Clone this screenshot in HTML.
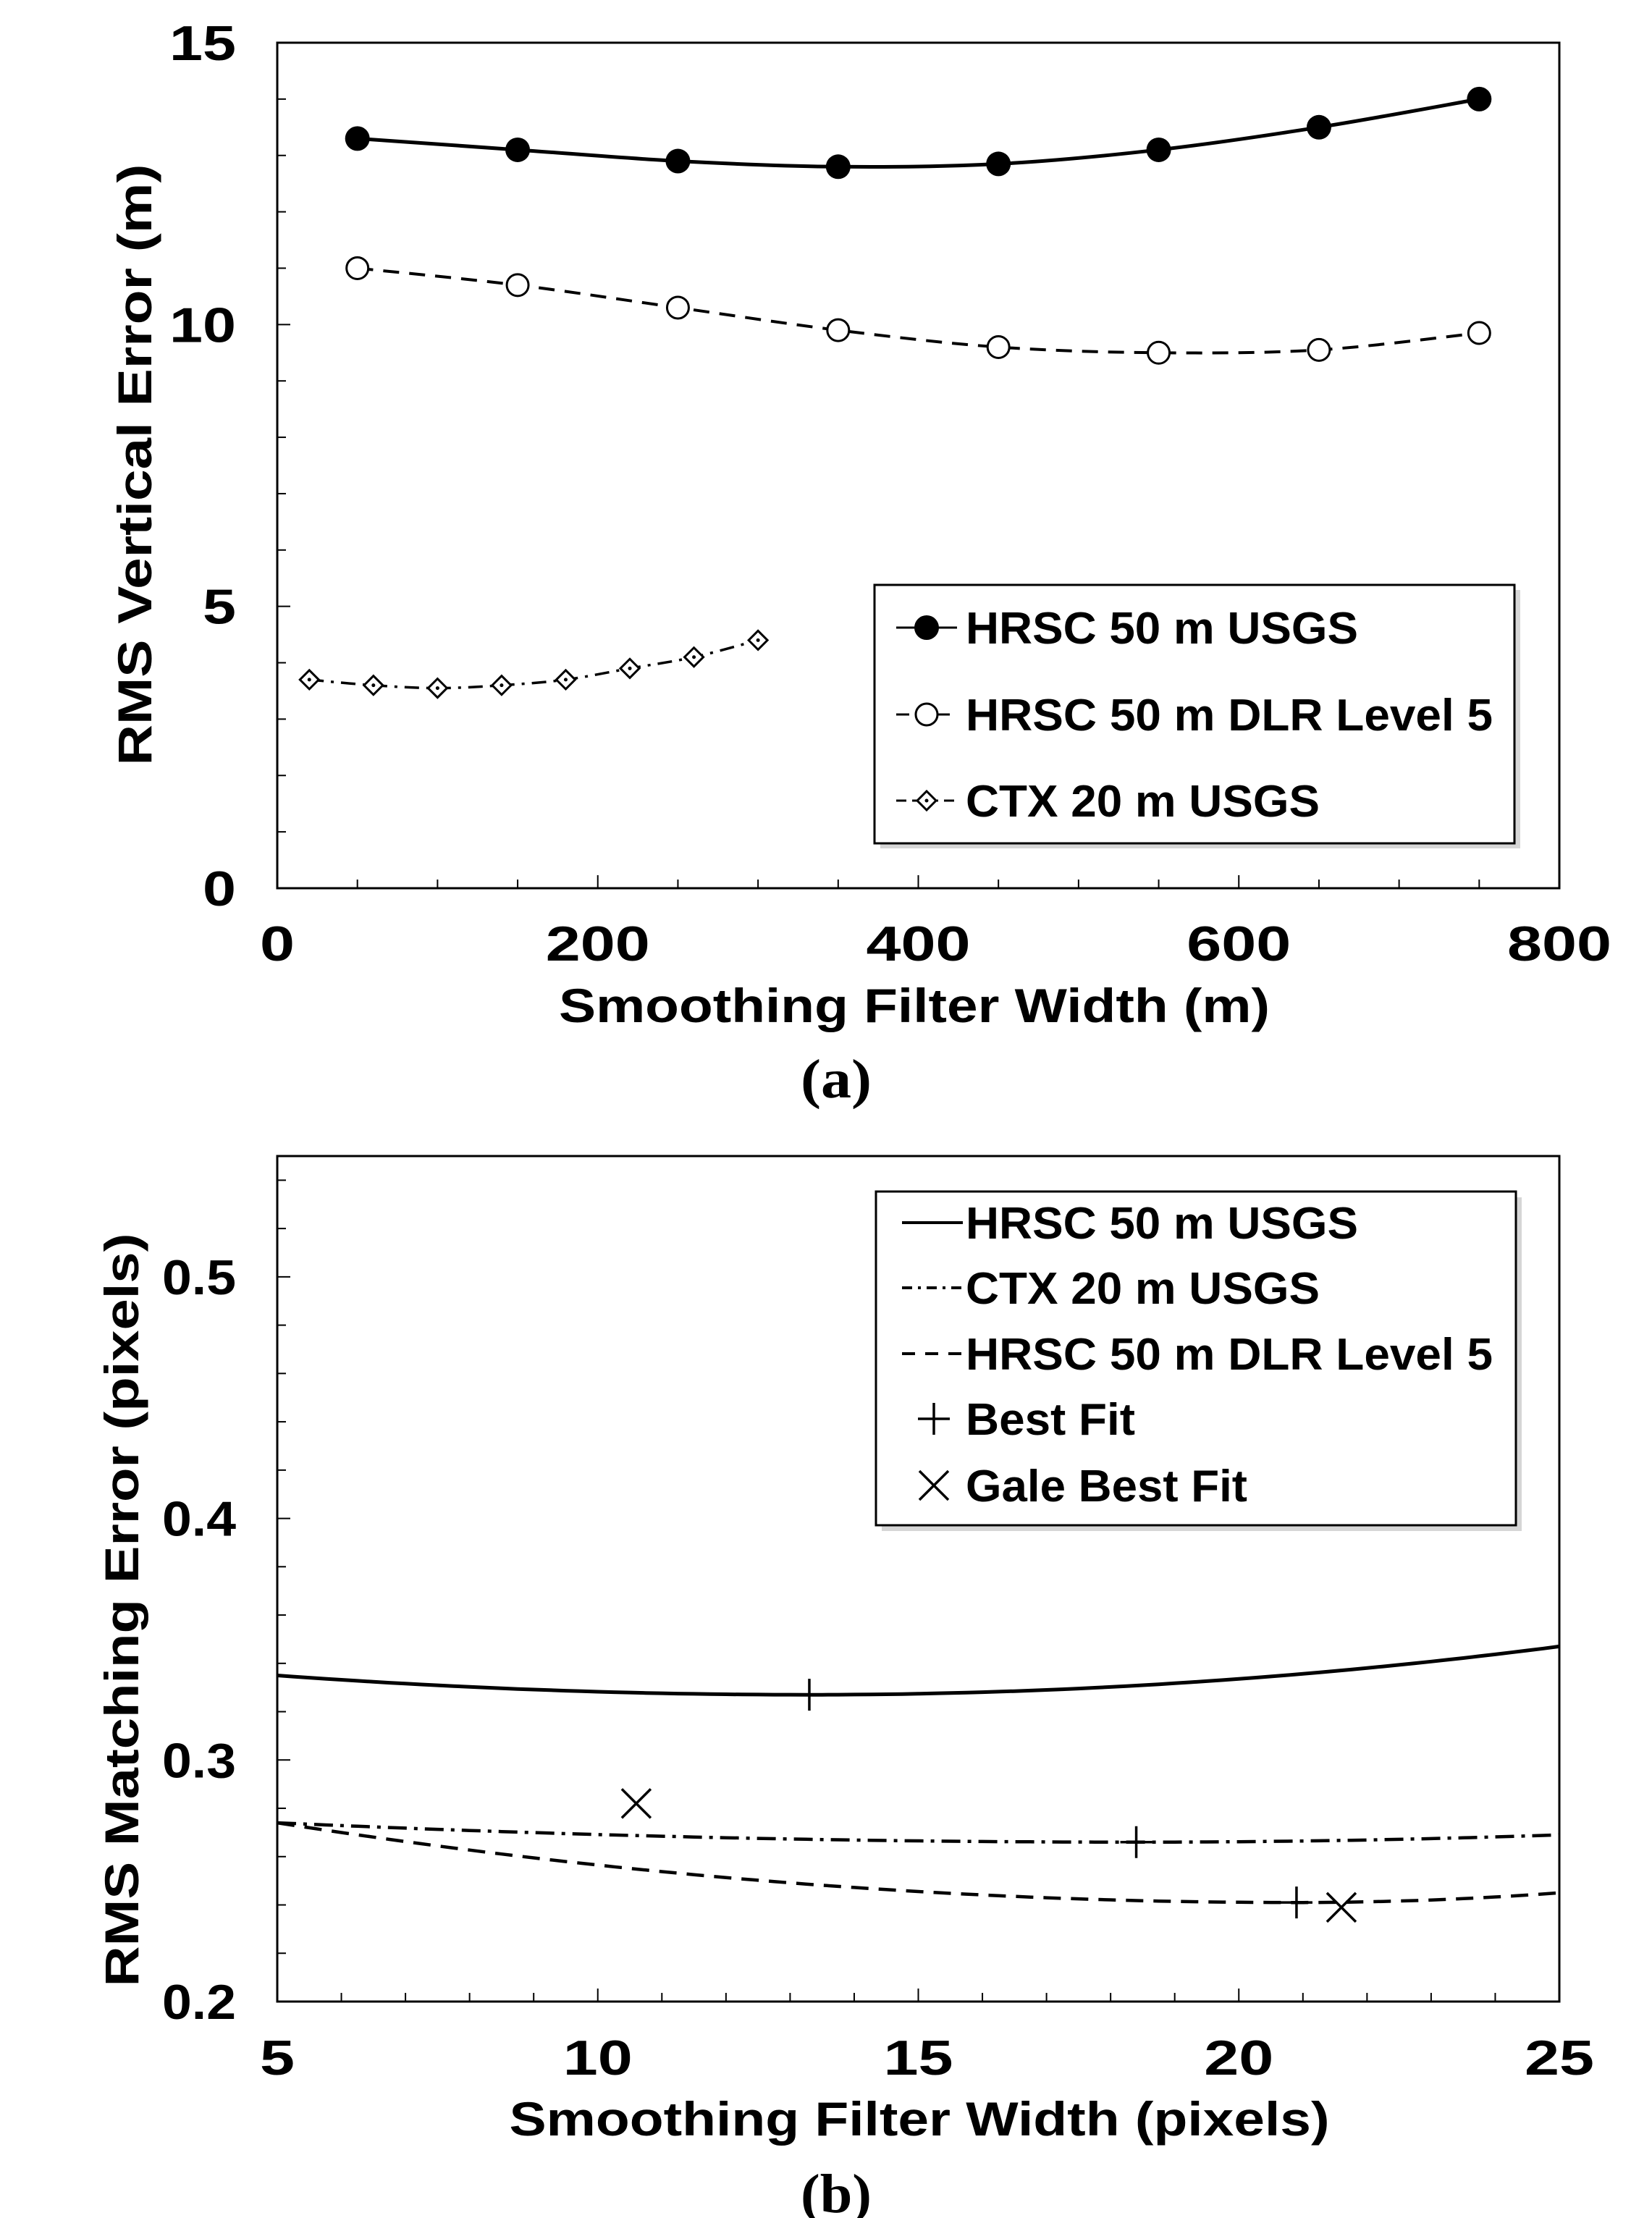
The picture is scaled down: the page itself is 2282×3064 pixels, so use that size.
<!DOCTYPE html>
<html><head><meta charset="utf-8"><style>html,body{margin:0;padding:0;background:#fff}svg{display:block}</style></head>
<body>
<svg id="s" xmlns="http://www.w3.org/2000/svg" width="2282" height="3064" viewBox="0 0 2282 3064" font-family="Liberation Sans, sans-serif" font-weight="bold"></svg>
<script>
const S=document.getElementById('s');let h='';
function t(x,y,s,txt,anchor,len,extra){h+=`<text x="${x}" y="${y}" font-size="${s}" text-anchor="${anchor||'start'}" ${len?`textLength="${len}" lengthAdjust="spacingAndGlyphs"`:''} ${extra||''}>${txt}</text>`;}
function smooth(pts){let d=`M${pts[0][0]},${pts[0][1]}`;for(let i=0;i<pts.length-1;i++){const p0=pts[i-1]||pts[i],p1=pts[i],p2=pts[i+1],p3=pts[i+2]||p2;const c1=[p1[0]+(p2[0]-p0[0])/6,p1[1]+(p2[1]-p0[1])/6],c2=[p2[0]-(p3[0]-p1[0])/6,p2[1]-(p3[1]-p1[1])/6];d+=` C${c1[0]},${c1[1]} ${c2[0]},${c2[1]} ${p2[0]},${p2[1]}`;}return d;}
// ---------- Plot A ----------
const L=383,R=2154,AT=59,AB=1227;
const ax=v=>L+(R-L)*v/800, ay=v=>AB-(AB-AT)*v/15;
h+=`<rect x="${L}" y="${AT}" width="${R-L}" height="${AB-AT}" fill="none" stroke="#000" stroke-width="3"/>`;
for(let v=0;v<=800;v+=50){const x=ax(v);h+=`<line x1="${x}" y1="${AB}" x2="${x}" y2="${AB-(v%200?12:18)}" stroke="#000" stroke-width="2"/>`;}
for(let v=0;v<=15;v++){const y=ay(v);h+=`<line x1="${L}" y1="${y}" x2="${L+(v%5?12:18)}" y2="${y}" stroke="#000" stroke-width="2"/>`;}
[[0,'0'],[5,'5'],[10,'10'],[15,'15']].forEach(([v,s])=>t(326,ay(v)+24,68,s,'end',s.length*46));
[[0,'0'],[200,'200'],[400,'400'],[600,'600'],[800,'800']].forEach(([v,s])=>t(ax(v),1327,68,s,'middle',s.length*48));
t(1263,1412,66,'Smoothing Filter Width (m)','middle',982);
t(1155,1516,76,'(a)','middle',98,'font-family="Liberation Serif, serif"');
t(0,0,66,'RMS Vertical Error (m)','middle',831,'transform="translate(209,642) rotate(-90)"');
const A1=[[50,13.3],[150,13.1],[250,12.9],[350,12.8],[450,12.85],[550,13.1],[650,13.5],[750,14.0]].map(p=>[ax(p[0]),ay(p[1])]);
const A2=[[50,11.0],[150,10.7],[250,10.3],[350,9.9],[450,9.6],[550,9.5],[650,9.55],[750,9.85]].map(p=>[ax(p[0]),ay(p[1])]);
const A3=[[20,3.7],[60,3.6],[100,3.55],[140,3.6],[180,3.7],[220,3.9],[260,4.1],[300,4.4]].map(p=>[ax(p[0]),ay(p[1])]);
h+=`<path d="${smooth(A1)}" fill="none" stroke="#000" stroke-width="5"/>`;
h+=`<path d="${smooth(A2)}" fill="none" stroke="#000" stroke-width="4" stroke-dasharray="22,14"/>`;
h+=`<path d="${smooth(A3)}" fill="none" stroke="#000" stroke-width="3.5" stroke-dasharray="20,10,4,10"/>`;
const fc=(x,y)=>h+=`<circle cx="${x}" cy="${y}" r="17" fill="#000"/>`;
const oc=(x,y)=>h+=`<circle cx="${x}" cy="${y}" r="15" fill="#fff" stroke="#000" stroke-width="3"/>`;
const dm=(x,y)=>h+=`<path d="M${x-13},${y}L${x},${y-13}L${x+13},${y}L${x},${y+13}Z" fill="#fff" stroke="#000" stroke-width="3"/><circle cx="${x}" cy="${y}" r="2.5" fill="#000"/>`;
A1.forEach(p=>fc(...p));A2.forEach(p=>oc(...p));A3.forEach(p=>dm(...p));
// legend A
h+=`<rect x="1216" y="815" width="884" height="357" fill="#bbb" opacity="0.6"/><rect x="1208" y="808" width="884" height="357" fill="#fff" stroke="#000" stroke-width="3"/>`;
[[867,'HRSC 50 m USGS',542,'f'],[987,'HRSC 50 m DLR Level 5',728,'o'],[1106,'CTX 20 m USGS',489,'d']].forEach(([y,s,w,m])=>{
 h+=`<line x1="1238" y1="${y}" x2="1322" y2="${y}" stroke="#000" stroke-width="3" ${m=='o'?'stroke-dasharray="18,10"':m=='d'?'stroke-dasharray="14,8"':''}/>`;
 if(m=='f')fc(1280,y);else if(m=='o')oc(1280,y);else dm(1280,y);
 t(1334,y+22,62,s,'start',w);});
// ---------- Plot B ----------
const BT=1597,BB=2765;
const bx=v=>L+(R-L)*(v-5)/20, by=v=>BB-(BB-BT)*(v-0.2)/0.35;
h+=`<rect x="${L}" y="${BT}" width="${R-L}" height="${BB-BT}" fill="none" stroke="#000" stroke-width="3"/>`;
for(let v=5;v<=25;v++){const x=bx(v);h+=`<line x1="${x}" y1="${BB}" x2="${x}" y2="${BB-(v%5?12:18)}" stroke="#000" stroke-width="2"/>`;}
for(let i=0;i<=17;i++){const v=0.2+i*0.02,y=by(v);h+=`<line x1="${L}" y1="${y}" x2="${L+(i%5?12:18)}" y2="${y}" stroke="#000" stroke-width="2"/>`;}
[[0.2,'0.2'],[0.3,'0.3'],[0.4,'0.4'],[0.5,'0.5']].forEach(([v,s])=>t(326,by(v)+24,68,s,'end',102));
[[5,'5'],[10,'10'],[15,'15'],[20,'20'],[25,'25']].forEach(([v,s])=>t(bx(v),2866,68,s,'middle',s.length*48));
t(1270,2950,66,'Smoothing Filter Width (pixels)','middle',1133);
t(1155,3056,76,'(b)','middle',98,'font-family="Liberation Serif, serif"');
t(0,0,66,'RMS Matching Error (pixels)','middle',1041,'transform="translate(191,2224) rotate(-90)"');
function curve(f){let d='';for(let v=5;v<=25.001;v+=0.25){d+=(d?'L':'M')+bx(v).toFixed(1)+','+by(f(v)).toFixed(1);}return d;}
const quad=(x0,y0,xm,ym,x1,y1)=>v=>{const a=(y0-ym)/((x0-xm)**2),b=(y1-ym)/((x1-xm)**2);return ym+(v<xm?a:b)*(v-xm)**2;};
h+=`<path d="${curve(quad(5,0.335,13.3,0.327,25,0.347))}" fill="none" stroke="#000" stroke-width="5"/>`;
h+=`<path d="${curve(quad(5,0.274,18.4,0.266,25,0.269))}" fill="none" stroke="#000" stroke-width="4.5" stroke-dasharray="26,10,5,10"/>`;
h+=`<path d="${curve(quad(5,0.274,20.9,0.241,25,0.245))}" fill="none" stroke="#000" stroke-width="4.5" stroke-dasharray="24,14"/>`;
const plus=(x,y)=>h+=`<path d="M${x-22},${y}H${x+22}M${x},${y-22}V${y+22}" stroke="#000" stroke-width="3.5"/>`;
const cross=(x,y)=>h+=`<path d="M${x-20},${y-20}L${x+20},${y+20}M${x+20},${y-20}L${x-20},${y+20}" stroke="#000" stroke-width="3.5"/>`;
plus(bx(13.3),by(0.327));plus(bx(18.4),by(0.266));plus(bx(20.9),by(0.241));
cross(bx(10.6),by(0.282));cross(bx(21.6),by(0.239));
// legend B
h+=`<rect x="1218" y="1654" width="884" height="461" fill="#bbb" opacity="0.6"/><rect x="1210" y="1646" width="884" height="461" fill="#fff" stroke="#000" stroke-width="3"/>`;
[[1689,'HRSC 50 m USGS',542,''],[1779,'CTX 20 m USGS',489,'14,8,4,8'],[1870,'HRSC 50 m DLR Level 5',728,'18,14'],[1960,'Best Fit',234,'p'],[2052,'Gale Best Fit',389,'x']].forEach(([y,s,w,m])=>{
 if(m=='p')plus(1290,y);else if(m=='x')cross(1290,y);
 else h+=`<line x1="1246" y1="${y}" x2="1330" y2="${y}" stroke="#000" stroke-width="4" ${m?`stroke-dasharray="${m}"`:''}/>`;
 t(1334,y+22,62,s,'start',w);});
S.innerHTML=h;
</script>
</body></html>
